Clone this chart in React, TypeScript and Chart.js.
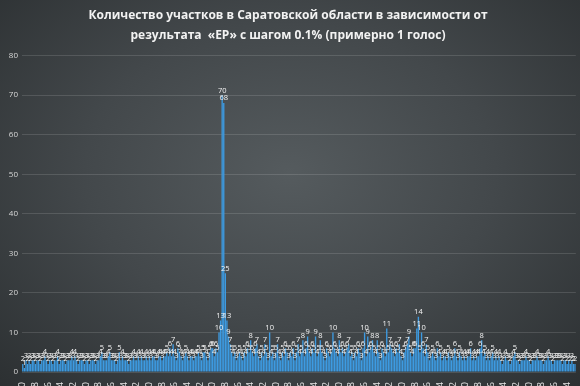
import React, { useEffect, useRef } from "react";
import { Chart, registerables } from "chart.js";

Chart.register(...registerables);

const titleLines = [
  "Количество участков в Саратовской области в зависимости от",
  "результата  «ЕР» с шагом 0.1% (примерно 1 голос)",
];

const startPercent = 36.0;

const stationCounts: number[] = [
  2, 1, 3, 2, 3, 2, 3, 3, 2, 3,
  3, 2, 3, 3, 4, 3, 2, 3, 3, 2,
  3, 3, 4, 2, 3, 3, 3, 2, 3, 3,
  3, 4, 3, 4, 3, 2, 3, 3, 3, 2,
  3, 3, 2, 3, 3, 3, 2, 3, 3, 4,
  5, 3, 3, 3, 4, 5, 3, 3, 3, 2,
  3, 5, 3, 4, 3, 3, 3, 2, 3, 3,
  4, 3, 3, 4, 3, 4, 3, 3, 4, 3,
  4, 3, 4, 4, 3, 3, 4, 4, 3, 4,
  4, 5, 4, 6, 4, 7, 4, 3, 6, 5,
  4, 3, 4, 5, 4, 3, 4, 4, 3, 4,
  4, 5, 4, 3, 5, 5, 4, 3, 5, 6,
  6, 4, 6, 5, 10, 13, 70, 68, 25, 13,
  9, 7, 5, 4, 5, 3, 4, 5, 4, 3,
  5, 4, 6, 5, 8, 5, 4, 6, 7, 4,
  3, 5, 4, 7, 5, 3, 10, 4, 5, 3,
  5, 7, 4, 3, 5, 4, 6, 5, 3, 5,
  4, 6, 3, 5, 7, 4, 5, 8, 4, 6,
  9, 5, 4, 6, 5, 9, 4, 5, 8, 5,
  4, 3, 6, 5, 4, 5, 10, 6, 5, 4,
  8, 5, 6, 4, 5, 6, 7, 4, 5, 3,
  5, 4, 6, 5, 3, 6, 10, 4, 9, 5,
  6, 8, 5, 4, 8, 5, 3, 6, 5, 4,
  11, 5, 7, 6, 5, 4, 6, 5, 7, 4,
  3, 5, 6, 7, 9, 5, 4, 6, 6, 11,
  14, 5, 10, 6, 4, 7, 5, 3, 4, 5,
  4, 3, 6, 4, 5, 3, 4, 4, 3, 5,
  4, 3, 4, 6, 4, 3, 5, 4, 3, 4,
  3, 4, 4, 6, 3, 4, 3, 4, 4, 6,
  8, 4, 5, 3, 4, 3, 4, 5, 3, 4,
  3, 4, 3, 2, 3, 4, 3, 3, 2, 3,
  4, 5, 3, 3, 2, 3, 3, 3, 4, 3,
  3, 2, 3, 3, 3, 4, 3, 3, 3, 2,
  3, 3, 4, 3, 3, 2, 3, 3, 3, 3,
  3, 2, 3, 3, 2, 3, 2, 3, 2, 2,
];

const categories: string[] = stationCounts.map((_, i) =>
  (startPercent + i * 0.1).toFixed(1)
);

const yTicks = [0, 10, 20, 30, 40, 50, 60, 70, 80];

const valueLabels = {
  id: "valueLabels",
  afterDatasetsDraw(chart: any) {
    const { ctx } = chart;
    const meta = chart.getDatasetMeta(0);
    const data = chart.data.datasets[0].data as number[];
    ctx.save();
    ctx.font = "7.5px 'Open Sans'";
    ctx.fillStyle = "#f4f4f4";
    ctx.textAlign = "center";
    ctx.textBaseline = "bottom";
    meta.data.forEach((el: any, i: number) => {
      const v = data[i];
      if (!v) return;
      ctx.fillText(String(v), el.x, el.y - 1);
    });
    ctx.restore();
  },
};

export default function App() {
  const ref = useRef<HTMLCanvasElement>(null);

  useEffect(() => {
    document.body.style.margin = "0";
    document.body.style.background = "#2e3234";
    const canvas = ref.current;
    if (!canvas) return;
    const chart = new Chart(canvas, {
      type: "bar",
      data: {
        labels: categories,
        datasets: [
          {
            data: stationCounts,
            backgroundColor: "#3d9be2",
            borderWidth: 0,
            barPercentage: 0.85,
            categoryPercentage: 1,
          },
        ],
      },
      options: {
        animation: false,
        responsive: false,
        layout: { padding: { top: 6, right: 4, left: 0, bottom: 0 } },
        plugins: {
          legend: { display: false },
          tooltip: { enabled: false },
          title: {
            display: true,
            text: titleLines,
            color: "#f2f2f2",
            font: { family: "'Open Sans'", size: 12, weight: "bold", lineHeight: 1.65 },
            padding: { top: 0, bottom: 10 },
          },
        },
        scales: {
          x: {
            grid: { display: false },
            border: { display: false },
            ticks: {
              color: "#e6e6e6",
              font: { family: "'Open Sans'", size: 9 },
              minRotation: 90,
              maxRotation: 90,
              autoSkip: true,
              autoSkipPadding: 1,
              padding: 2,
            },
            afterFit(scale: any) {
              scale.height = 14;
            },
          },
          y: {
            min: 0,
            max: 80,
            afterBuildTicks(scale: any) {
              scale.ticks = yTicks.map((v) => ({ value: v }));
            },
            grid: { color: "rgba(255,255,255,0.13)", drawTicks: false },
            border: { display: false },
            ticks: {
              color: "#d8d8d8",
              font: { family: "'Open Sans'", size: 8 },
              padding: 4,
            },
            afterFit(scale: any) {
              scale.width = 22;
            },
          },
        },
      },
      plugins: [valueLabels],
    });
    return () => chart.destroy();
  }, []);

  return (
    <div
      style={{
        width: 580,
        height: 386,
        overflow: "hidden",
        background:
          "radial-gradient(ellipse at 50% 45%, #555b5e 0%, #43484b 50%, #2c3032 100%)",
      }}
    >
      <canvas ref={ref} width={580} height={386} style={{ display: "block" }} />
    </div>
  );
}
